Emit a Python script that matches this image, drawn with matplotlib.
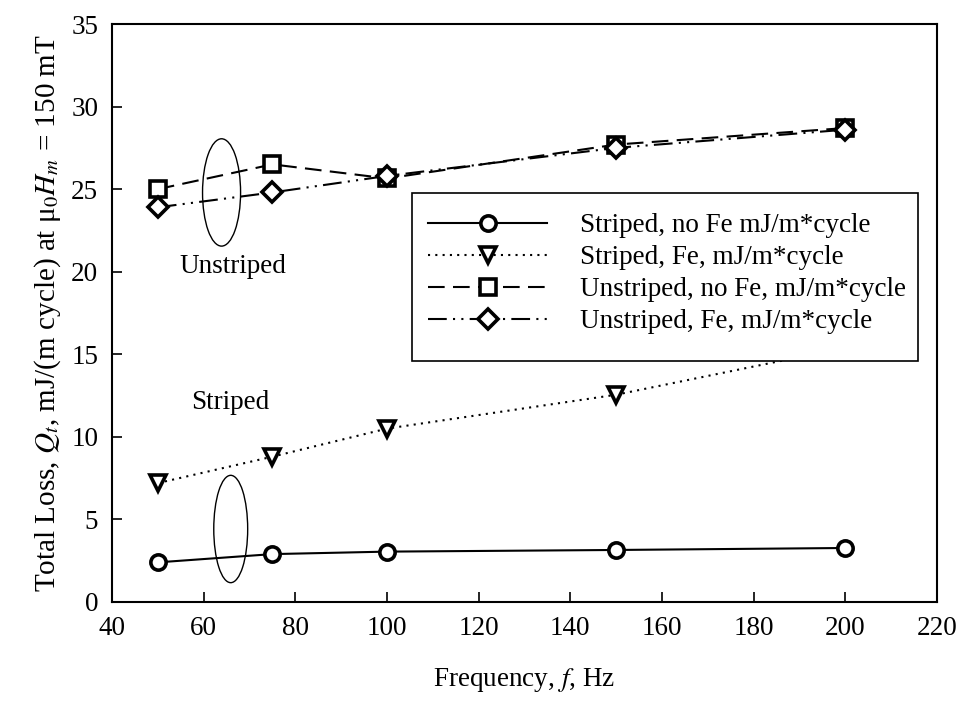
import matplotlib
matplotlib.use('Agg')
import matplotlib.pyplot as plt
from matplotlib.patches import Ellipse, Rectangle

# frequency in Hz
freq = [50, 75, 100, 150, 200]

# total loss, mJ/(m cycle)
striped_no_fe = [2.4, 2.9, 3.05, 3.15, 3.27]
striped_fe = [7.2, 8.8, 10.5, 12.55, 15.4]
unstriped_no_fe = [25.0, 26.5, 25.65, 27.7, 28.7]
unstriped_fe = [23.9, 24.8, 25.8, 27.5, 28.6]

labels = ['Striped, no Fe mJ/m*cycle',
          'Striped, Fe, mJ/m*cycle',
          'Unstriped, no Fe, mJ/m*cycle',
          'Unstriped, Fe, mJ/m*cycle']

plt.rcParams['font.family'] = ['Liberation Serif', 'DejaVu Serif']
plt.rcParams['mathtext.fontset'] = 'stix'
fs = 19.5

fig = plt.figure(figsize=(9.64, 7.04), dpi=100)
ax = fig.add_axes([0.1162, 0.1449, 0.8558, 0.8210])

mk = dict(markersize=11, markeredgewidth=2.6, markerfacecolor='white',
          markeredgecolor='black', color='black', linewidth=1.5)

ax.plot(freq, striped_no_fe, marker='o', linestyle='-', label=labels[0], **mk)
ax.plot(freq, striped_fe, marker='v', linestyle=(0, (1, 2.5)), label=labels[1], **mk)
ax.plot(freq, unstriped_no_fe, marker='s', linestyle=(0, (8, 4)), label=labels[2], **mk)
ax.plot(freq, unstriped_fe, marker='D', linestyle=(0, (9, 3, 1, 3, 1, 3)),
        label=labels[3], **{**mk, 'markersize': 10})

# ellipses grouping the series
ax.add_patch(Ellipse((63.9, 24.8), 8.3, 6.5, fill=False, edgecolor='black', linewidth=1))
ax.add_patch(Ellipse((65.9, 4.42), 7.4, 6.5, fill=False, edgecolor='black', linewidth=1))
ax.text(66.3, 20.3, 'Unstriped', fontsize=fs, ha='center', va='center')
ax.text(65.7, 12.05, 'Striped', fontsize=fs, ha='center', va='center')

ax.set_xlim(40, 220)
ax.set_ylim(0, 35)
ax.set_xticks(range(40, 221, 20))
ax.set_yticks(range(0, 36, 5))
ax.tick_params(direction='in', length=7, width=1.2, labelsize=fs, pad=10,
               top=False, right=False)
for s in ax.spines.values():
    s.set_linewidth(1.5)

ax.set_xlabel('Frequency, $f$, Hz', fontsize=fs, labelpad=18)
ax.set_ylabel('Total Loss, $Q_t$, mJ/(m cycle) at μ$_0$$H_m$ = 150 mT',
              fontsize=21, labelpad=6)

# legend box drawn by hand so the padding matches
ax.add_patch(Rectangle((0.3636, 0.417), 0.6134, 0.2906, transform=ax.transAxes,
                       facecolor='white', edgecolor='black', linewidth=1.2, zorder=4))
leg = ax.legend(loc='upper left', bbox_to_anchor=(0.383, 0.673), borderaxespad=0,
                fontsize=fs, handlelength=4.4, handletextpad=1.2,
                labelspacing=0.26, frameon=False, borderpad=0)
leg.set_zorder(5)

fig.savefig('out.png', dpi=100)
